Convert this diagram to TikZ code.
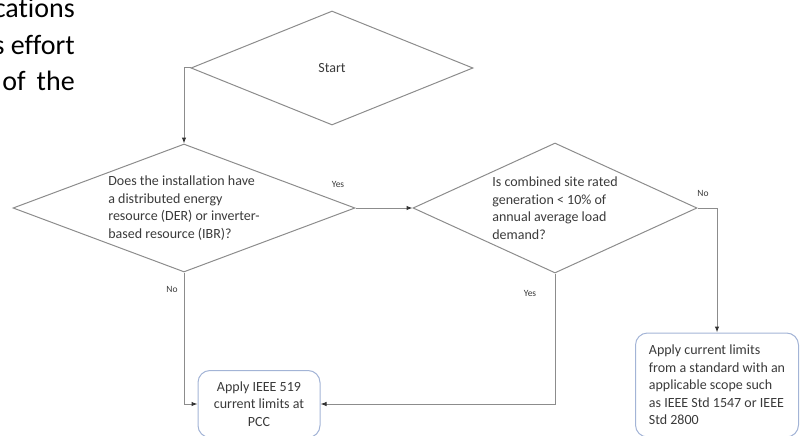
\documentclass[tikz,border=0pt]{standalone}
\usepackage{fontspec}
\setmainfont{Carlito}[Ligatures=CommonOff]
\usepackage{tikz}
\usetikzlibrary{shapes.geometric,arrows.meta}

\definecolor{linegray}{HTML}{8C8C8C}
\definecolor{textgray}{HTML}{3A3A3A}
\definecolor{boxblue}{HTML}{A3B4D6}

\begin{document}
\begin{tikzpicture}[x=1pt,y=-1pt,
	decision/.style={draw=linegray, line width=1pt, diamond, inner sep=0pt, text=textgray, font=\fontsize{14}{17.5}\selectfont},
	result/.style={draw=boxblue, line width=1pt, rounded corners=12pt, inner sep=0pt, text=textgray, font=\fontsize{14}{17.5}\selectfont},
	flow/.style={draw=linegray, line width=1pt, -{Latex[length=6pt,width=4.5pt,color=black!80]}},
	answer/.style={text=textgray, font=\fontsize{9.5}{11}\selectfont},
	page/.style={anchor=base east, inner sep=0pt, font=\fontsize{28}{36.5}\selectfont}]
	\useasboundingbox (0,0) rectangle (803,436);
	\clip (0,0) rectangle (803,436);
	% text of the page
	\draw (75,18) node(para1) [page] {cations};
	\draw (75,55) node(para2) [page] {s effort};
	\draw (75,91) node(para3) [page] {of\hspace{11pt}the};
	% decisions
	\draw (332,68) node(start) [decision, aspect=2.47, minimum width=282pt, minimum height=114pt] {Start};
	\draw (184,208) node(q1) [decision, aspect=2.67, minimum width=342pt, minimum height=128pt, align=left] {Does the installation have\\a distributed energy\\resource (DER) or inverter-\\based resource (IBR)?};
	\draw (555,208) node(q2) [decision, aspect=2.18, minimum width=284pt, minimum height=130pt, align=left] {Is combined site rated\\generation < 10\% of\\annual average load\\demand?};
	% results
	\draw (259,404) node(pcc) [result, minimum width=122pt, minimum height=67pt, align=center] {Apply IEEE 519\\current limits at\\PCC};
	\draw (717,385) node(other) [result, minimum width=163pt, minimum height=104pt, align=left] {Apply current limits\\from a standard with an\\applicable scope such\\as IEEE Std 1547 or IEEE\\Std 2800};
	% connectors
	\path[flow] (start.west) -| (q1.north);
	\path[flow] (q1.east) -- (q2.west);
	\path[flow] (q2.east) -| (other.north);
	\path[flow] (q2.south) |- (pcc.east);
	\path[flow] (q1.south) |- (pcc.west);
	% answers
	\draw (338,184) node(yes1) [answer] {Yes};
	\draw (703,193) node(no2) [answer] {No};
	\draw (530,293) node(yes2) [answer] {Yes};
	\draw (172,289) node(no1) [answer] {No};
\end{tikzpicture}
\end{document}
